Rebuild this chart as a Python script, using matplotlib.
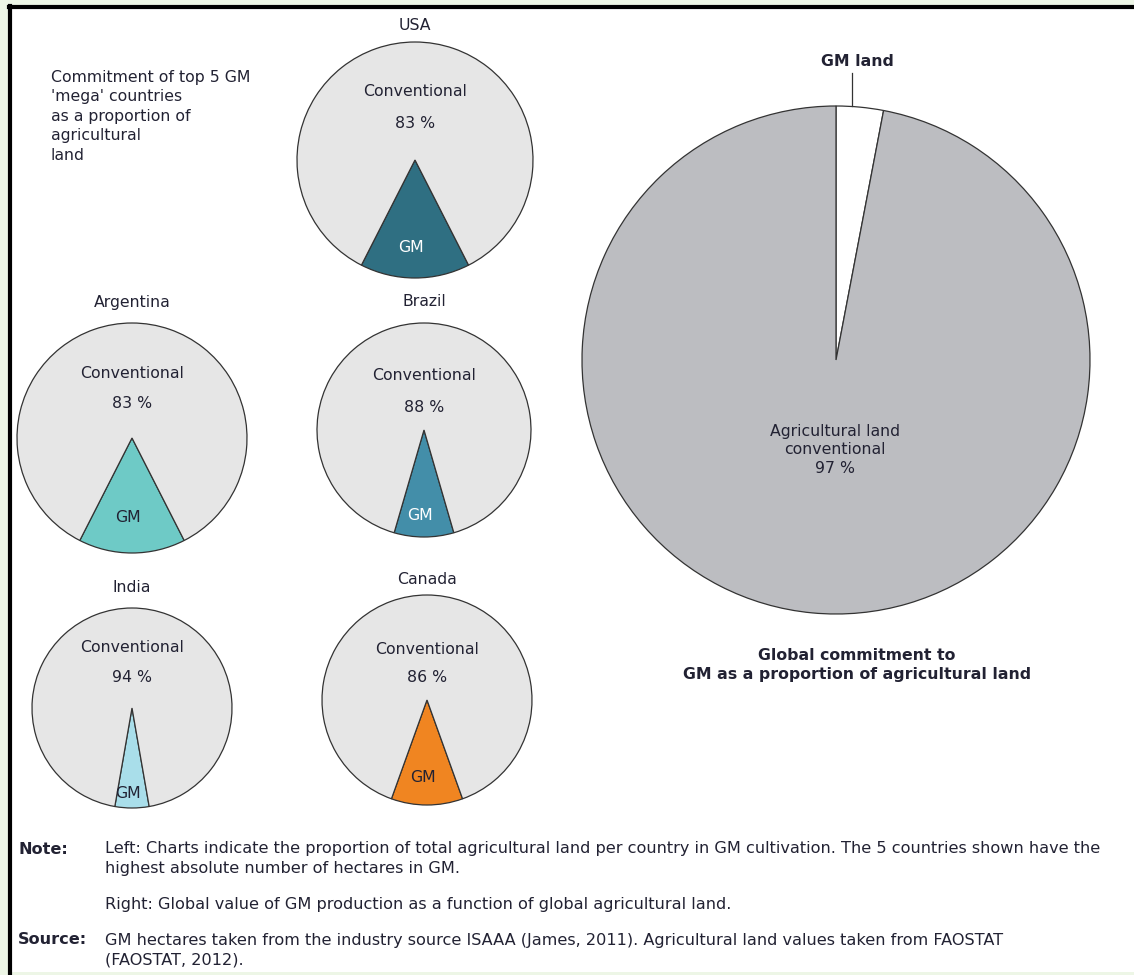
import numpy as np
import matplotlib
matplotlib.use('Agg')
import matplotlib.pyplot as plt
from matplotlib.patches import Rectangle

W, H = 1134, 975

# data
countries = ['USA', 'Argentina', 'Brazil', 'India', 'Canada']
conventional = [83, 83, 88, 94, 86]
# GM wedge size as drawn in the original
gm_drawn = [15, 15, 9, 5.5, 11]
gm_colors = ['#2f6f82', '#6ecac6', '#438ea9', '#a9deea', '#f08521']
gm_text_colors = ['white', '#222233', 'white', '#222233', '#222233']

global_labels = ['GM land', 'Agricultural land\nconventional']
global_values = [3, 97]

# layout in pixels (y from top)
centers = [(415, 160), (132, 438), (424, 430), (132, 708), (427, 700)]
radii = [118, 115, 107, 100, 105]
title_y = [25, 303, 302, 588, 579]
conv_y = [91, 373, 375, 648, 650]
pct_y = [123, 403, 407, 678, 678]
gm_y = [248, 518, 516, 793, 777]

txt = '#222233'
fs = 11.3

fig = plt.figure(figsize=(W / 100, H / 100), dpi=100)
fig.patch.set_facecolor('#edf6e6')
ax = fig.add_axes([0, 0, 1, 1])


def Y(y):
    return H - y


def reset():
    ax.set_xlim(0, W)
    ax.set_ylim(0, H)
    ax.set_aspect('equal')
    ax.axis('off')


reset()
# white panel with black border on left and top
ax.add_patch(Rectangle((10, Y(972)), W, 972 - 7, facecolor='white', edgecolor='none', zorder=0))
ax.plot([10, 10], [Y(975), Y(6)], color='black', lw=3, zorder=1)
ax.plot([9, W], [Y(7), Y(7)], color='black', lw=3, zorder=1)

for i, name in enumerate(countries):
    cx, cy = centers[i]
    g = gm_drawn[i]
    start = 270 - g * 360 / 200
    ax.pie([g, 100 - g], colors=[gm_colors[i], '#e6e6e6'],
           center=(cx, Y(cy)), radius=radii[i], startangle=start,
           counterclock=True, frame=True,
           wedgeprops=dict(edgecolor='#333333', linewidth=0.9))
    ax.text(cx, Y(title_y[i]), name, ha='center', va='center', fontsize=fs, color=txt)
    ax.text(cx, Y(conv_y[i]), 'Conventional', ha='center', va='center', fontsize=fs, color=txt)
    ax.text(cx, Y(pct_y[i]), '%d %%' % conventional[i], ha='center', va='center', fontsize=fs, color=txt)
    ax.text(cx - 4, Y(gm_y[i]), 'GM', ha='center', va='center', fontsize=fs, color=gm_text_colors[i])
reset()

# global pie
gx, gy, gr = 836, 360, 254
ax.pie(global_values, colors=['white', '#bcbdc1'], center=(gx, Y(gy)), radius=gr,
       startangle=90, counterclock=False, frame=True,
       wedgeprops=dict(edgecolor='#333333', linewidth=0.9))
reset()

ax.plot([852, 852], [Y(73), Y(106)], color='#333333', lw=0.9)
ax.text(857, Y(62), global_labels[0], ha='center', va='center', fontsize=fs,
        fontweight='bold', color=txt)
ax.text(835, Y(450), global_labels[1] + '\n%d %%' % global_values[1], ha='center',
        va='center', fontsize=fs, color=txt, linespacing=1.3)
ax.text(857, Y(665), 'Global commitment to\nGM as a proportion of agricultural land',
        ha='center', va='center', fontsize=fs, fontweight='bold', color=txt,
        linespacing=1.35)

ax.text(51, Y(70), "Commitment of top 5 GM\n'mega' countries\nas a proportion of\nagricultural\nland",
        ha='left', va='top', fontsize=fs, color=txt, linespacing=1.37)

# notes
nfs = 11.6
ax.text(18, Y(849), 'Note:', ha='left', va='center', fontsize=nfs, fontweight='bold', color=txt)
ax.text(105, Y(849), 'Left: Charts indicate the proportion of total agricultural land per country in GM cultivation. The 5 countries shown have the',
        ha='left', va='center', fontsize=nfs, color=txt)
ax.text(105, Y(869), 'highest absolute number of hectares in GM.', ha='left', va='center', fontsize=nfs, color=txt)
ax.text(105, Y(905), 'Right: Global value of GM production as a function of global agricultural land.',
        ha='left', va='center', fontsize=nfs, color=txt)
ax.text(18, Y(940), 'Source:', ha='left', va='center', fontsize=nfs, fontweight='bold', color=txt)
ax.text(105, Y(940), 'GM hectares taken from the industry source ISAAA (James, 2011). Agricultural land values taken from FAOSTAT',
        ha='left', va='center', fontsize=nfs, color=txt)
ax.text(105, Y(960), '(FAOSTAT, 2012).', ha='left', va='center', fontsize=nfs, color=txt)

fig.savefig('out.png', dpi=100, facecolor=fig.get_facecolor())
